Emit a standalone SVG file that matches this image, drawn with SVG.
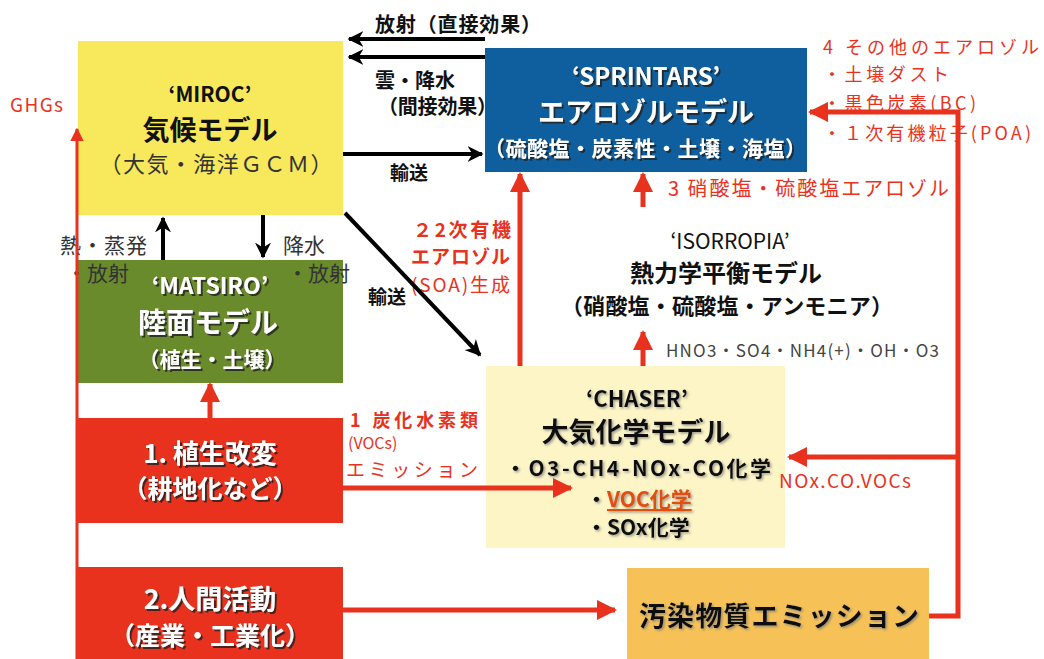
<svg xmlns="http://www.w3.org/2000/svg" width="1044" height="659" viewBox="0 0 1044 659">
<defs>
<marker id="ab" viewBox="0 0 10 10" refX="9" refY="5" markerWidth="4" markerHeight="4" orient="auto" markerUnits="strokeWidth"><path d="M0,0 L10,5 L0,10 L3,5 Z" fill="#000"/></marker>
<marker id="ar" viewBox="0 0 10 10" refX="9" refY="5" markerWidth="4.5" markerHeight="4" orient="auto" markerUnits="strokeWidth"><path d="M0,0 L10,5 L0,10 Z" fill="#e8321e"/></marker>
<marker id="ar2" viewBox="0 0 10 10" refX="9" refY="5" markerWidth="4.5" markerHeight="5" orient="auto" markerUnits="strokeWidth"><path d="M0,0 L10,5 L0,10 Z" fill="#e8321e"/></marker>
<filter id="sh" x="-10%" y="-20%" width="120%" height="150%"><feDropShadow dx="2" dy="2" stdDeviation="0.6" flood-color="#222" flood-opacity="0.8"/></filter>
<filter id="shl" x="-10%" y="-20%" width="120%" height="150%"><feDropShadow dx="1.5" dy="1.5" stdDeviation="0.8" flood-color="#777" flood-opacity="0.7"/></filter>
</defs>
<style>
text{font-family:"Noto Sans CJK JP","Noto Sans",sans-serif;font-weight:bold;}
.c{text-anchor:middle;}
.w{fill:#fff;filter:url(#sh);}
.k{fill:#111;}
.g{fill:#333;font-weight:normal;}
.ks{fill:#111;filter:url(#shl);}
.r{fill:#e8321e;}
.n{font-weight:normal;}
.blk{stroke:#000;stroke-width:4;fill:none;}
.red{stroke:#e8321e;stroke-width:5;fill:none;}
</style>
<rect width="1044" height="659" fill="#fff"/>

<g id="miroc">
  <rect x="78" y="41" width="265" height="174" fill="#f8e85c"/>
  <text x="210" y="102" font-size="21" class="c k">‘MIROC’</text>
  <text x="210" y="140" font-size="27" class="c k">気候モデル</text>
  <text x="216" y="172" font-size="22" class="c g" textLength="233">（大気・海洋ＧＣＭ）</text>
</g>

<g id="sprintars">
  <rect x="485" y="48" width="322" height="124" fill="#0f5f9e"/>
  <text x="646" y="85" font-size="24" class="c w">‘SPRINTARS’</text>
  <text x="646" y="122" font-size="27" class="c w">エアロゾルモデル</text>
  <text x="645" y="156" font-size="21" class="c w" textLength="322">（硫酸塩・炭素性・土壌・海塩）</text>
</g>

<g id="isorropia">
  <text x="730" y="249" font-size="21" class="c k n">‘ISORROPIA’</text>
  <text x="726" y="282" font-size="24" class="c k">熱力学平衡モデル</text>
  <text x="727" y="314" font-size="22" class="c k" textLength="332">（硝酸塩・硫酸塩・アンモニア）</text>
</g>

<g id="matsiro">
  <rect x="78" y="260" width="265" height="123" fill="#6a8b2c"/>
  <text x="210" y="294" font-size="23" class="c w">‘MATSIRO’</text>
  <text x="208" y="333" font-size="28" class="c w">陸面モデル</text>
  <text x="212" y="367" font-size="21" class="c w">（植生・土壌）</text>
</g>

<g id="veg">
  <rect x="78" y="418" width="265" height="105" fill="#e8321e"/>
  <text x="210" y="463" font-size="26" class="c w">1. 植生改変</text>
  <text x="210" y="498" font-size="25" class="c w">（耕地化など）</text>
</g>

<g id="human">
  <rect x="78" y="567" width="265" height="92" fill="#e8321e"/>
  <text x="210" y="609" font-size="27" class="c w">2.人間活動</text>
  <text x="210" y="645" font-size="25" class="c w">（産業・工業化）</text>
</g>

<g id="chaser">
  <rect x="486" y="366" width="299" height="182" fill="#fdf5c6"/>
  <text x="637" y="407" font-size="22" class="c ks">‘CHASER’</text>
  <text x="636" y="442" font-size="27" class="c ks">大気化学モデル</text>
  <text x="638" y="476" font-size="21" class="c ks" textLength="266">・O3-CH4-NOx-CO化学</text>
  <text x="586" y="507" font-size="21" class="ks">・<tspan fill="#e05010" text-decoration="underline">VOC化学</tspan></text>
  <text x="586" y="535" font-size="21" class="ks">・SOx化学</text>
</g>

<g id="pollutant">
  <rect x="627" y="568" width="302" height="91" fill="#f6c257"/>
  <text x="779" y="626" font-size="27" class="c ks" textLength="280">汚染物質エミッション</text>
</g>

<g id="labels">
  <text x="375" y="32" font-size="20" class="k" textLength="166">放射（直接効果）</text>
  <text x="375" y="88" font-size="20" class="k">雲・降水</text>
  <text x="378" y="114" font-size="20" class="k" textLength="119">（間接効果）</text>
  <text x="390" y="180" font-size="19" class="k">輸送</text>
  <text x="368" y="304" font-size="19" class="k">輸送</text>
  <text x="10" y="112" font-size="19" class="r n" textLength="53">GHGs</text>
  <text x="60" y="253" font-size="21" class="g" textLength="87">熱・蒸発</text>
  <text x="66" y="281" font-size="21" class="g">・放射</text>
  <text x="283" y="253" font-size="21" class="g">降水</text>
  <text x="287" y="281" font-size="21" class="g">・放射</text>
  <text x="413" y="237" font-size="19" class="r" textLength="98">２2次有機</text>
  <text x="411" y="264" font-size="19" class="r" textLength="99">エアロゾル</text>
  <text x="411" y="292" font-size="19" class="r n" textLength="99">(SOA)生成</text>
  <text x="823" y="54" font-size="18" class="r n" textLength="216">4 その他のエアロゾル</text>
  <text x="823" y="81" font-size="18" class="r n" textLength="126">・土壌ダスト</text>
  <text x="823" y="110" font-size="18" class="r n" textLength="153">・黒色炭素(BC)</text>
  <text x="823" y="140" font-size="18" class="r n" textLength="208">・１次有機粒子(POA)</text>
  <text x="668" y="196" font-size="20" class="r n" textLength="281">3 硝酸塩・硫酸塩エアロゾル</text>
  <text x="350" y="427" font-size="18" class="r" textLength="128">1 炭化水素類</text>
  <text x="348" y="449" font-size="16" class="r n">(VOCs)</text>
  <text x="346" y="477" font-size="19" class="r n" textLength="132">エミッション</text>
  <text x="779" y="488" font-size="19" class="r n" textLength="132">NOx.CO.VOCs</text>
  <text x="666" y="357" font-size="17" fill="#444" class="n" textLength="273">HNO3・SO4・NH4(+)・OH・O3</text>
</g>

<g id="connectors">
  <line class="blk" x1="485" y1="39" x2="349" y2="39" marker-end="url(#ab)"/>
  <line class="blk" x1="485" y1="57" x2="349" y2="57" marker-end="url(#ab)"/>
  <line class="blk" x1="343" y1="154" x2="482" y2="154" marker-end="url(#ab)"/>
  <line class="blk" x1="345" y1="213" x2="480" y2="355" marker-end="url(#ab)"/>
  <line class="blk" x1="163" y1="260" x2="163" y2="218" marker-end="url(#ab)"/>
  <line class="blk" x1="263" y1="215" x2="263" y2="257" marker-end="url(#ab)"/>
  <line x1="77" y1="659" x2="77" y2="129" stroke="#e8321e" stroke-width="3" marker-end="url(#ar2)"/>
  <line class="red" x1="210" y1="418" x2="210" y2="384" marker-end="url(#ar)"/>
  <line class="red" x1="343" y1="488" x2="571" y2="488" marker-end="url(#ar)"/>
  <line class="red" x1="343" y1="610" x2="615" y2="610" marker-end="url(#ar)"/>
  <polyline class="red" points="929,616 958,616 958,112 810,112" marker-end="url(#ar)"/>
  <line class="red" x1="958" y1="457" x2="789" y2="457" marker-end="url(#ar)"/>
  <line class="red" x1="520" y1="366" x2="520" y2="174" marker-end="url(#ar)"/>
  <line class="red" x1="643" y1="207" x2="643" y2="174" marker-end="url(#ar)"/>
  <line class="red" x1="643" y1="366" x2="643" y2="332" marker-end="url(#ar)"/>
</g>
</svg>
